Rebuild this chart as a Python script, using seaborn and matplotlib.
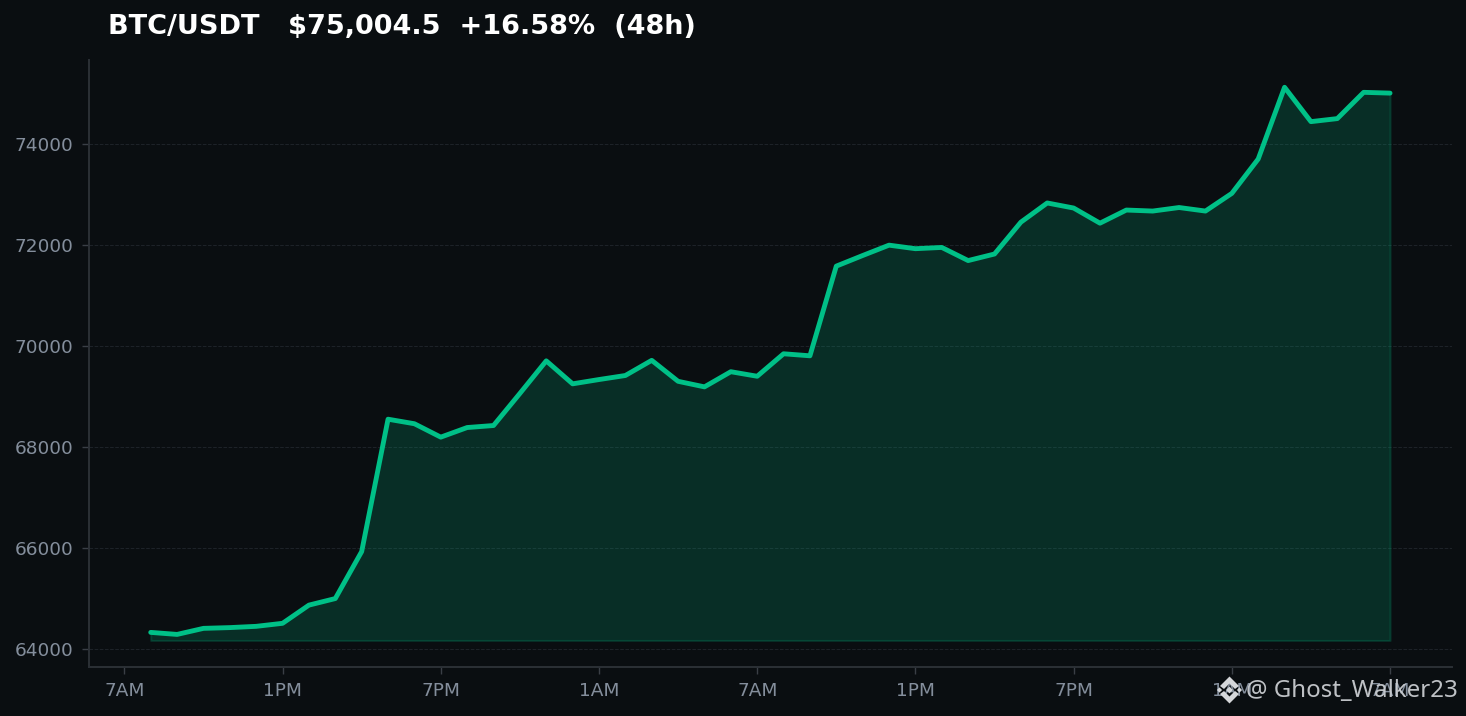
import pandas as pd
import seaborn as sns
import matplotlib.pyplot as plt
from matplotlib.patches import Polygon

hours = list(range(48))
prices = [
    64330, 64290, 64410, 64425, 64450, 64510, 64870, 65000, 65930, 68550,
    68460, 68195, 68385, 68425, 69060, 69705, 69250, 69335, 69415, 69715,
    69300, 69190, 69490, 69400, 69845, 69805, 71580, 71790, 71995, 71925,
    71950, 71690, 71820, 72450, 72830, 72730, 72430, 72690, 72670, 72740,
    72670, 73020, 73700, 75120, 74440, 74500, 75020, 75004.5,
]
fill_floor = 64170
tick_hours = [-1, 5, 11, 17, 23, 29, 35, 41, 47]
tick_labels = ["7AM", "1PM", "7PM", "1AM", "7AM", "1PM", "7PM", "1AM", "7AM"]
y_ticks = [64000, 66000, 68000, 70000, 72000, 74000]
title = "BTC/USDT   $75,004.5  +16.58%  (48h)"
watermark = "@ Ghost_Walker23"

bg = "#0a0e11"
green = "#00c087"

sns.set_style("dark", {"axes.facecolor": bg, "figure.facecolor": bg})
plt.rcParams["font.family"] = ["DejaVu Sans"]
fig = plt.figure(figsize=(14.66, 7.16), dpi=100)
ax = fig.add_axes([88.5 / 1466, 1 - 666.5 / 716, (1452 - 88.5) / 1466, (666.5 - 60) / 716])

df = pd.DataFrame({"hour": hours, "price": prices})
ax.fill_between(df["hour"], df["price"], fill_floor, color=green, alpha=0.18, linewidth=1.5)
sns.lineplot(data=df, x="hour", y="price", color=green, linewidth=3.5, ax=ax)

ax.set_xlim(-2.36, 49.35)
ax.set_ylim(63655, 75660)
ax.set_xticks(tick_hours, tick_labels)
ax.set_yticks(y_ticks)
ax.set_xlabel("")
ax.set_ylabel("")
ax.grid(axis="y", color="#1e2329", linestyle="--", linewidth=0.7)
ax.grid(axis="x", visible=False)
ax.set_axisbelow(True)
ax.tick_params(colors="#3a3f46", labelcolor="#848e9c", labelsize=13.3, length=5, width=1, left=True, bottom=True, pad=6)
sns.despine(ax=ax)
for side in ["left", "bottom"]:
    ax.spines[side].set_color("#2b3036")
    ax.spines[side].set_linewidth(1.4)

fig.text(108 / 1466, 1 - 27 / 716, title, color="white", fontsize=19.5, fontweight="bold", va="center", ha="left")
fig.text(1458 / 1466, 1 - 691 / 716, watermark, color="#c9ccd0", fontsize=17.3, family="Noto Sans", va="center", ha="right", alpha=0.95)

# binance style logo next to the watermark, offsets in pixels from its centre
cx, cy, logo = 1229.5, 690, "#d5d7da"
top_chevron = [(0, -13.5), (9.5, -4), (5.5, -1), (0, -6.5), (-5.5, -1), (-9.5, -4)]
bottom_chevron = [(x, -y) for x, y in top_chevron]
def diamond(dx, r):
    return [(dx, -r), (dx + r, 0), (dx, r), (dx - r, 0)]
shapes = [top_chevron, bottom_chevron, diamond(0, 3.4), diamond(-10, 2.6), diamond(10, 2.6)]
for shape in shapes:
    pts = [((cx + x) / 1466, 1 - (cy + y) / 716) for x, y in shape]
    fig.add_artist(Polygon(pts, closed=True, transform=fig.transFigure, color=logo, lw=0, zorder=5))

fig.savefig("out.png", dpi=100, facecolor=bg)
